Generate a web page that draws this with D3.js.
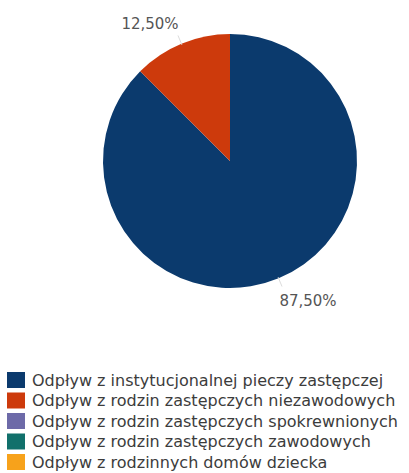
<!DOCTYPE html>
<html><head><meta charset="utf-8">
<script src="https://cdn.jsdelivr.net/npm/d3@7"></script>
<style>body{margin:0;background:#fff}svg{display:block}</style>
</head><body>
<script>
const categories = [
  "Odpływ z instytucjonalnej pieczy zastępczej",
  "Odpływ z rodzin zastępczych niezawodowych",
  "Odpływ z rodzin zastępczych spokrewnionych",
  "Odpływ z rodzin zastępczych zawodowych",
  "Odpływ z rodzinnych domów dziecka"
];
const values = [87.5, 12.5, 0, 0, 0];
const labels = ["87,50%", "12,50%", "", "", ""];
const colors = ["#0b3a6d", "#cd3a0c", "#6d6aa8", "#11706b", "#f7a21b"];

const W = 409, H = 473;
const cx = 230, cy = 161, R = 127;
const svg = d3.select("body").append("svg").attr("width", W).attr("height", H);
const font = "'DejaVu Sans', 'Open Sans', sans-serif";

const data = categories.map((c, i) => ({cat: c, value: values[i], label: labels[i], color: colors[i]}));
const pie = d3.pie().sort(null).value(d => d.value);
const arcs = pie(data).filter(a => a.data.value > 0);
const arc = d3.arc().innerRadius(0).outerRadius(R);
const g = svg.append("g").attr("transform", `translate(${cx},${cy})`);
g.selectAll("path.slice").data(arcs).join("path")
  .attr("d", arc).attr("fill", d => d.data.color);

const inner = d3.arc().innerRadius(R * 0.99).outerRadius(R * 0.99);
const outer = d3.arc().innerRadius(R * 1.07).outerRadius(R * 1.07);
g.selectAll("line.lead").data(arcs).join("line")
  .attr("x1", d => inner.centroid(d)[0]).attr("y1", d => inner.centroid(d)[1])
  .attr("x2", d => outer.centroid(d)[0]).attr("y2", d => outer.centroid(d)[1])
  .attr("stroke", "#dcdcdc").attr("stroke-width", 1);

const lab = d3.arc().innerRadius(R * 1.12).outerRadius(R * 1.12);
g.selectAll("text.lbl").data(arcs).join("text")
  .attr("x", d => lab.centroid(d)[0] + (lab.centroid(d)[0] < 0 ? 3 : -5))
  .attr("y", d => lab.centroid(d)[1])
  .attr("dy", d => lab.centroid(d)[1] < 0 ? "-0.05em" : "0.9em")
  .attr("text-anchor", d => lab.centroid(d)[0] < 0 ? "end" : "start")
  .attr("font-family", font).attr("font-size", 15).attr("fill", "#555")
  .text(d => d.data.label);

const leg = svg.append("g").attr("transform", "translate(7,372)");
const rows = leg.selectAll("g").data(data).join("g")
  .attr("transform", (d, i) => `translate(0,${i * 20.5})`);
rows.append("rect").attr("width", 18).attr("height", 16).attr("fill", d => d.color);
rows.append("text").attr("x", 25).attr("y", 8).attr("dy", "0.36em")
  .attr("font-family", font).attr("font-size", 16).attr("fill", "#3c3c3c")
  .text(d => d.cat);
</script>
</body></html>
